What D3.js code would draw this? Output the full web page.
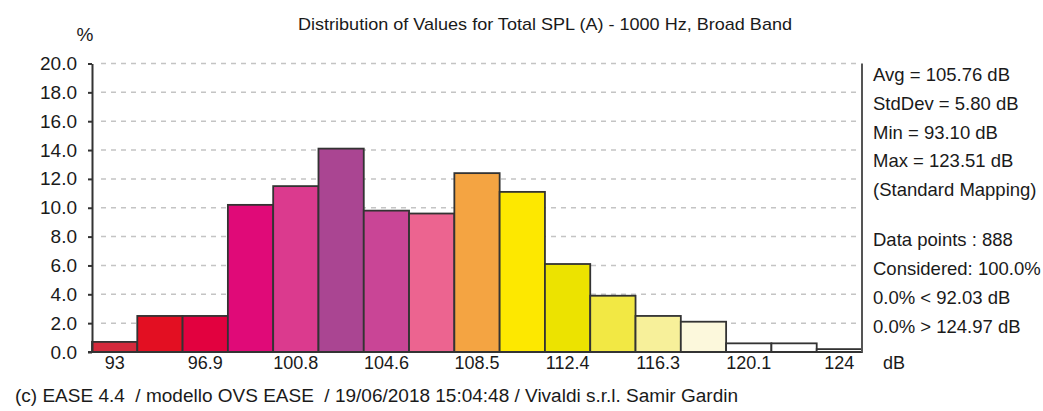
<!DOCTYPE html>
<html>
<head>
<meta charset="utf-8">
<script src="https://cdn.jsdelivr.net/npm/d3@7"></script>
<style>
  html, body { margin: 0; padding: 0; background: #ffffff; }
  svg { display: block; }
  text { font-family: "Liberation Sans", Arial, sans-serif; fill: #1a1a1a; }
</style>
</head>
<body>
<svg id="chart" width="1043" height="411"></svg>
<script>
// Histogram bins (centre of each class, dB) and share of data points (%)
const categories = ["93.0", "94.9", "96.9", "98.8", "100.8", "102.7", "104.6", "106.6", "108.5",
                    "110.4", "112.4", "114.3", "116.3", "118.2", "120.1", "122.1", "124.0"];
const percentages = [0.7, 2.5, 2.5, 10.2, 11.5, 14.1, 9.8, 9.6, 12.4, 11.1, 6.1, 3.9, 2.5, 2.1, 0.6, 0.6, 0.2];
const barColors = ["#d42a3c", "#e30f22", "#e2013f", "#e00a78", "#db3a8e", "#aa4592", "#c94596",
                   "#ec6490", "#f4a442", "#fde800", "#ece300", "#f2e844", "#f7f09a", "#fcf8dc",
                   "#ffffff", "#ffffff", "#ffffff"];
// Every second bin gets a label on the dB axis
const tickLabels = ["93", "96.9", "100.8", "104.6", "108.5", "112.4", "116.3", "120.1", "124"];
const yTicks = [0, 2, 4, 6, 8, 10, 12, 14, 16, 18, 20];
const statsTop = ["Avg = 105.76 dB", "StdDev = 5.80 dB", "Min = 93.10 dB", "Max = 123.51 dB", "(Standard Mapping)"];
const statsBottom = ["Data points : 888", "Considered: 100.0%", "0.0% < 92.03 dB", "0.0% > 124.97 dB"];
const title = "Distribution of Values for Total SPL (A) - 1000 Hz, Broad Band";
const footer = "(c) EASE 4.4  / modello OVS EASE  / 19/06/2018 15:04:48 / Vivaldi s.r.l. Samir Gardin";

const svg = d3.select("#chart");
const plot = { left: 92, right: 862, top: 63.5, bottom: 352 };
const axisColor = "#333333";

const x = d3.scaleBand().domain(categories).range([plot.left, plot.right]).paddingInner(0).paddingOuter(0);
const y = d3.scaleLinear().domain([0, 20]).range([plot.bottom, plot.top]);

// dashed horizontal grid
svg.append("g").selectAll("line")
  .data(yTicks.filter(d => d > 0))
  .join("line")
  .attr("x1", plot.left + 9).attr("x2", plot.right - 6)
  .attr("y1", d => y(d)).attr("y2", d => y(d))
  .attr("stroke", "#c4c4c4").attr("stroke-width", 1.5)
  .attr("stroke-dasharray", "5,5");

// histogram bars
svg.append("g").selectAll("rect")
  .data(percentages)
  .join("rect")
  .attr("x", (d, i) => x(categories[i]))
  .attr("width", x.bandwidth())
  .attr("y", d => y(d))
  .attr("height", d => y(0) - y(d))
  .attr("fill", (d, i) => barColors[i])
  .attr("stroke", "#333333").attr("stroke-width", 1.8);

// left % axis
const yAxis = d3.axisLeft(y).tickValues(yTicks).tickFormat(d3.format(".1f"))
  .tickSize(4).tickSizeOuter(0).tickPadding(11);
const gy = svg.append("g").attr("transform", `translate(${plot.left},0)`).call(yAxis);
gy.select(".domain").attr("stroke", axisColor).attr("stroke-width", 2);
gy.selectAll(".tick line").attr("stroke", axisColor).attr("stroke-width", 2);
gy.selectAll(".tick text").attr("font-size", 19).attr("fill", "#1a1a1a")
  .attr("font-family", "Liberation Sans, Arial, sans-serif");

// bottom dB axis
const labelled = tickLabels.map((t, i) => categories[i * 2]);
const xAxis = d3.axisBottom(x).tickValues(labelled)
  .tickFormat(d => tickLabels[labelled.indexOf(d)])
  .tickSize(0).tickSizeOuter(0).tickPadding(4);
const gx = svg.append("g").attr("transform", `translate(0,${plot.bottom})`).call(xAxis);
gx.select(".domain").remove();
gx.selectAll(".tick text").attr("font-size", 18).attr("fill", "#1a1a1a")
  .attr("font-family", "Liberation Sans, Arial, sans-serif");

// baseline and right border
svg.append("line").attr("x1", plot.left - 4).attr("x2", plot.right)
  .attr("y1", plot.bottom).attr("y2", plot.bottom)
  .attr("stroke", axisColor).attr("stroke-width", 2);
svg.append("line").attr("x1", plot.right).attr("x2", plot.right)
  .attr("y1", plot.top).attr("y2", plot.bottom)
  .attr("stroke", "#555555").attr("stroke-width", 2);

// titles and units
svg.append("text").attr("x", 298).attr("y", 30).attr("font-size", 17)
  .attr("textLength", 494).attr("lengthAdjust", "spacingAndGlyphs").text(title);
svg.append("text").attr("x", 85).attr("y", 41).attr("font-size", 19)
  .attr("text-anchor", "middle").text("%");
svg.append("text").attr("x", 883).attr("y", 369).attr("font-size", 18).text("dB");

// statistics block
svg.append("g").selectAll("text")
  .data(statsTop).join("text")
  .attr("x", 873).attr("y", (d, i) => 81 + i * 28.8)
  .attr("font-size", 18.5).text(d => d);
svg.append("g").selectAll("text")
  .data(statsBottom).join("text")
  .attr("x", 873).attr("y", (d, i) => 246 + i * 28.9)
  .attr("font-size", 18.5).text(d => d);

// footer
svg.append("text").attr("x", 15).attr("y", 402).attr("font-size", 18)
  .attr("textLength", 723).attr("lengthAdjust", "spacingAndGlyphs")
  .style("white-space", "pre").text(footer);
</script>
</body>
</html>
